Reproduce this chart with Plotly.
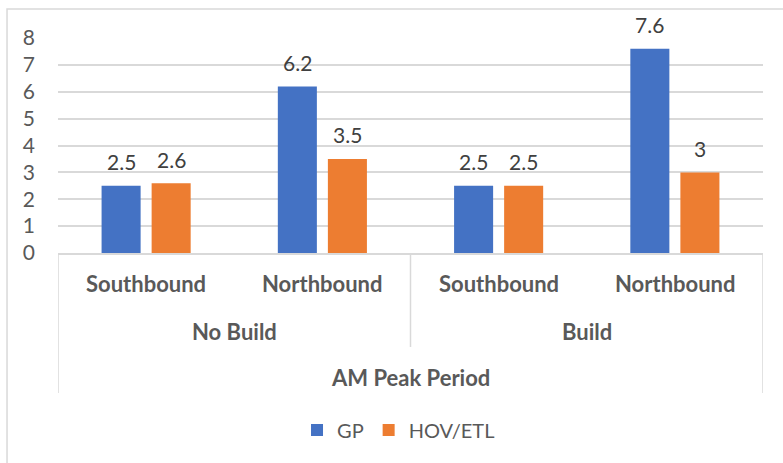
import plotly.graph_objects as go

directions = ["Southbound", "Northbound", "Southbound", "Northbound"]
scenarios = ["No Build", "Build"]
period = "AM Peak Period"
gp_values = [2.5, 6.2, 2.5, 7.6]
hov_values = [2.6, 3.5, 2.5, 3.0]
y_ticks = [0, 1, 2, 3, 4, 5, 6, 7, 8]

FONT = "Lato, Calibri, Carlito, sans-serif"
BARGAP = 0.432
x = list(range(len(directions)))

fig = go.Figure()
fig.add_trace(go.Bar(x=x, y=gp_values, name="GP",
                     marker=dict(color="#4472C4", line=dict(width=0))))
fig.add_trace(go.Bar(x=x, y=hov_values, name="HOV/ETL",
                     marker=dict(color="#ED7D31", line=dict(width=0))))

annotations = []
slot = (1 - BARGAP) / 2
for k, vals in enumerate([gp_values, hov_values]):
    off = (k - 0.5) * slot
    for i, v in enumerate(vals):
        annotations.append(dict(x=i + off, y=v, xref="x", yref="y", text=f"{v:g}",
                                showarrow=False, yshift=24, yanchor="middle",
                                font=dict(size=21, color="#404040", family=FONT)))
for i, d in enumerate(directions):
    annotations.append(dict(x=i, y=-0.144, xref="x", yref="paper", text=f"<b>{d}</b>",
                            showarrow=False, yanchor="middle",
                            font=dict(size=22, color="#595959", family=FONT)))
for j, s in enumerate(scenarios):
    annotations.append(dict(x=2 * j + 0.5, y=-0.363, xref="x", yref="paper", text=f"<b>{s}</b>",
                            showarrow=False, yanchor="middle",
                            font=dict(size=22, color="#595959", family=FONT)))
annotations.append(dict(x=1.5, y=-0.577, xref="x", yref="paper", text=f"<b>{period}</b>",
                        showarrow=False, yanchor="middle",
                        font=dict(size=22, color="#595959", family=FONT)))

line_style = dict(color="#d9d9d9", width=1.5)
shapes = [
    dict(type="line", xref="x", yref="paper", x0=-0.5, x1=-0.5, y0=0, y1=-0.651, line=line_style),
    dict(type="line", xref="x", yref="paper", x0=1.5, x1=1.5, y0=0, y1=-0.437, line=line_style),
    dict(type="line", xref="x", yref="paper", x0=3.5, x1=3.5, y0=0, y1=-0.651, line=line_style),
    dict(type="rect", xref="paper", yref="paper", x0=-0.0723, x1=1.2, y0=-1.2, y1=1.135,
         line=dict(color="#d9d9d9", width=1.5), layer="below"),
]

fig.update_layout(
    width=783, height=463,
    margin=dict(l=58, r=20, t=38, b=210, autoexpand=False),
    paper_bgcolor="white", plot_bgcolor="white",
    barmode="group", bargap=BARGAP, bargroupgap=0.22,
    font=dict(family=FONT, color="#595959"),
    showlegend=True,
    legend=dict(orientation="h", x=0.483, xanchor="center", y=-0.823, yanchor="middle",
                font=dict(size=20, color="#595959", family=FONT),
                traceorder="normal"),
    annotations=annotations, shapes=shapes,
    xaxis=dict(range=[-0.5, 3.5], showticklabels=False, showgrid=False, zeroline=False,
               showline=True, linecolor="#d9d9d9", linewidth=1.5, ticks=""),
    yaxis=dict(range=[0, 8], tickvals=y_ticks, showgrid=True, gridcolor="#d9d9d9", gridwidth=1.5,
               zeroline=False, showline=False, ticks="",
               tickfont=dict(size=21, color="#595959", family=FONT), ticklabelstandoff=22),
)

fig.write_html("out.html", config={"displayModeBar": False},
               post_script="document.body.style.margin='0';document.body.style.overflow='hidden';")
